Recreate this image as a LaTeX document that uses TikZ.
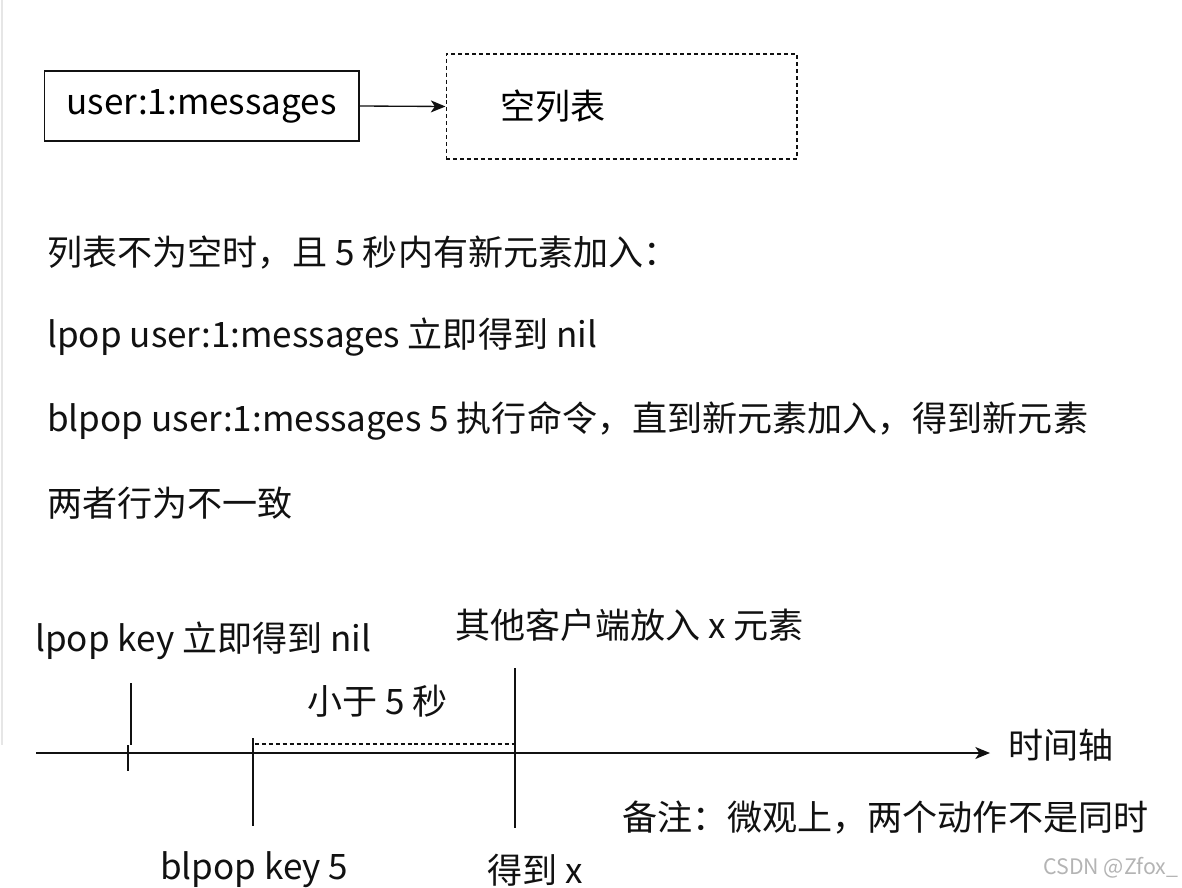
\documentclass[tikz,border=0pt]{standalone}
\usepackage{fontspec}
\setmainfont{Noto Sans CJK SC}
\usetikzlibrary{arrows.meta,positioning}
\definecolor{Ink}{HTML}{111111}
\definecolor{Edge}{HTML}{E6E6E6}
\definecolor{Mark}{HTML}{B4B4B4}
\tikzset{
  keybox/.style={
    draw=Ink, line width=1pt, minimum width=236pt, minimum height=52.5pt,
    inner sep=0pt, font=\fontsize{26.3}{30}\selectfont
  },
  listbox/.style={
    draw=Ink, line width=1pt, dashed, dash pattern=on 3pt off 2.2pt,
    minimum width=263pt, minimum height=78.75pt, text width=182pt,
    inner xsep=40.5pt, inner ysep=0pt, align=left,
    font=\fontsize{26.3}{30}\selectfont
  },
  note/.style={anchor=west, inner sep=0pt, text=Ink,
    font=\fontsize{26.3}{30}\selectfont},
  link/.style={-{Stealth[length=11pt,width=9pt,inset=3pt]}, line width=1pt, draw=Ink},
  tick/.style={line width=1pt, draw=Ink},
  gap/.style={line width=1pt, draw=Ink, dashed, dash pattern=on 3pt off 2.2pt}
}
\begin{document}
\begin{tikzpicture}[x=0.75pt,y=-0.75pt]
  \useasboundingbox[fill=white] (0,0) rectangle (1182,888);
  \draw[Edge, line width=1pt] (2,0) -- (2,745);
  % key and empty list
  \node[keybox] (key) at (201.5,106) {\raisebox{-3pt}{user:1:messages}};
  \node[listbox] (empty) at (621.5,106.5) {空列表};
  \draw[link] (key.east) -- (empty.west);
  % explanation
  \node[note] (l1) at (47,253) {列表不为空时，且 5 秒内有新元素加入：};
  \node[note] (l2) at (47,337) {lpop user:1:messages 立即得到 nil};
  \node[note] (l3) at (47,421) {blpop user:1:messages 5 执行命令，直到新元素加入，得到新元素};
  \node[note] (l4) at (47,503) {两者行为不一致};
  % time axis
  \coordinate (t0) at (36,753);
  \coordinate (t1) at (990,753);
  \draw[link] (t0) -- (t1);
  \node[note, right=13.5pt of t1, yshift=6pt] (axis) {时间轴};
  \coordinate (a1) at (131,683);
  \coordinate (a2) at (131,745);
  \coordinate (a3) at (128,745);
  \coordinate (a4) at (128,771);
  \draw[tick] (a1) -- (a2);
  \draw[tick] (a3) -- (a4);
  \coordinate (b1) at (253,738);
  \coordinate (b2) at (253,826);
  \draw[tick] (b1) -- (b2);
  \coordinate (c1) at (515,668);
  \coordinate (c2) at (515,828);
  \draw[tick] (c1) -- (c2);
  \coordinate (g1) at (255,744);
  \coordinate (g2) at (515,744);
  \draw[gap] (g1) -- (g2);
  \node[note] (lpop) at (35,641) {lpop key 立即得到 nil};
  \node[note] (push) at (455,625) {其他客户端放入 x 元素};
  \node[note] (less) at (307,701) {小于 5 秒};
  \node[note] (blpop) at (160,870) {blpop key 5};
  \node[note] (got) at (487,870) {得到 x};
  \node[note] (remark) at (622,818) {备注：微观上，两个动作不是同时};
  \node[note, text=Mark, font=\fontsize{16}{19}\selectfont] (mark) at (1043,868) {CSDN @Zfox\_};
\end{tikzpicture}
\end{document}
